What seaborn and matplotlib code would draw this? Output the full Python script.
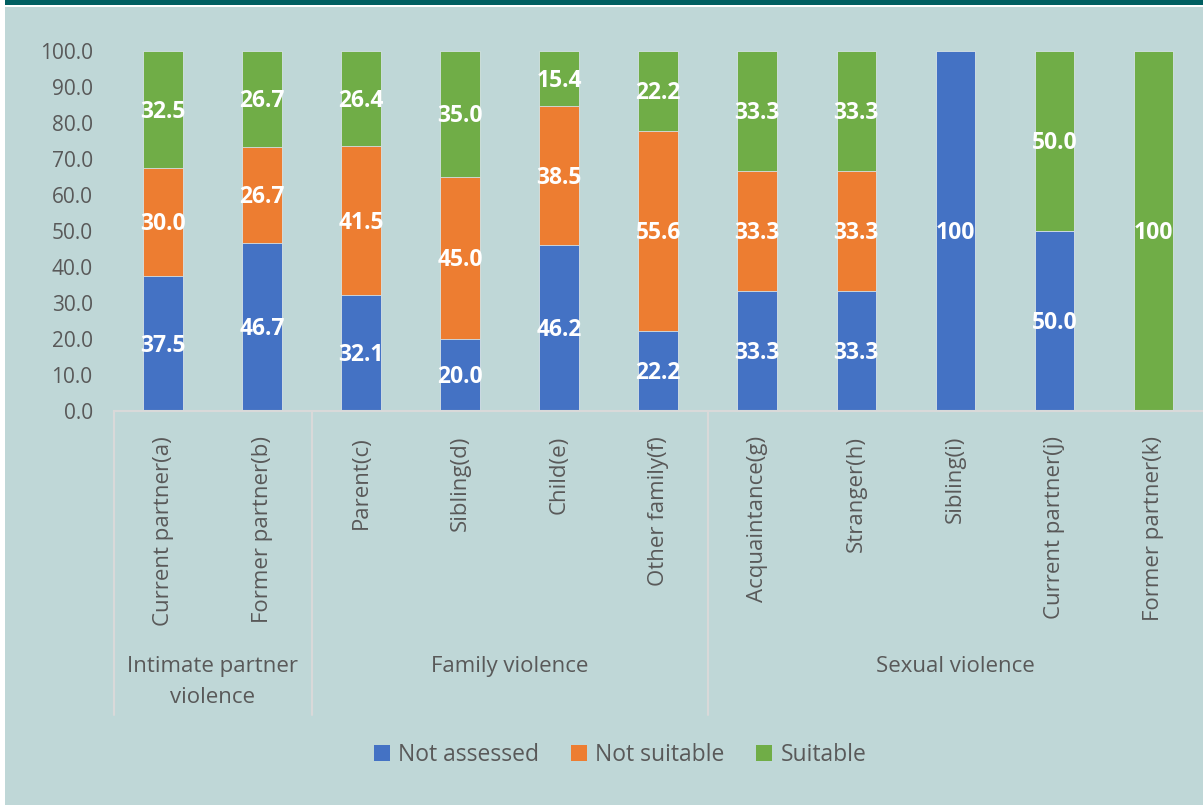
import numpy as np
import pandas as pd
import seaborn as sns
import matplotlib.pyplot as plt
from matplotlib.patches import Rectangle, Patch
import matplotlib.transforms as mtransforms

sns.set_style('white')
plt.rcParams['font.family'] = ['Open Sans', 'DejaVu Sans']

#Chart data
categories = ['Current partner(a)', 'Former partner(b)', 'Parent(c)', 'Sibling(d)', 'Child(e)',
              'Other family(f)', 'Acquaintance(g)', 'Stranger(h)', 'Sibling(i)',
              'Current partner(j)', 'Former partner(k)']
groups = ['Intimate partner\nviolence', 'Family violence', 'Sexual violence']
group_sizes = [2, 4, 5]
series = ['Not assessed', 'Not suitable', 'Suitable']
not_assessed = [37.5, 46.7, 32.1, 20.0, 46.2, 22.2, 33.3, 33.3, 100, 50.0, 0]
not_suitable = [30.0, 26.7, 41.5, 45.0, 38.5, 55.6, 33.3, 33.3, 0, 0, 0]
suitable = [32.5, 26.7, 26.4, 35.0, 15.4, 22.2, 33.3, 33.3, 0, 50.0, 100]
colors = ['#4472C4', '#ED7D31', '#70AD47']
grey = '#595959'
line_col = '#D9D9D9'

df = pd.DataFrame({'cat': categories, 'Not assessed': not_assessed,
                   'Not suitable': not_suitable, 'Suitable': suitable})
df['top_blue'] = df['Not assessed']
df['top_orange'] = df['Not assessed'] + df['Not suitable']
df['top_green'] = df['top_orange'] + df['Suitable']

fig = plt.figure(figsize=(12.03, 8.05), dpi=100, facecolor='white')
#Background panel and dark band at the top
fig.patches.append(Rectangle((5/1203, 0), 1, (805-7)/805, transform=fig.transFigure,
                             facecolor='#BFD7D7', edgecolor='none', zorder=-10))
fig.patches.append(Rectangle((5/1203, (805-5)/805), 1, 5/805, transform=fig.transFigure,
                             facecolor='#005F61', edgecolor='none', zorder=-10))

ax = fig.add_axes([113.5/1203, 1-411/805, 1-113.5/1203, 360/805])
ax.set_facecolor('none')

#Stacked bars drawn as overlapping cumulative bars
for col, c in zip(['top_green', 'top_orange', 'top_blue'], colors[::-1]):
    sns.barplot(data=df, x='cat', y=col, order=categories, color=c, saturation=1,
                width=0.4, errorbar=None, linewidth=0.6, edgecolor='#D5E2E6', ax=ax)

#Data labels in the middle of each segment
for i in range(len(categories)):
    bottom = 0
    for s in series:
        v = df[s].iloc[i]
        if v > 0:
            txt = '100' if v == 100 else f'{v:.1f}'
            ax.text(i, bottom + v/2 - 0.6, txt, ha='center', va='center', color='white',
                    fontsize=16.5, fontweight='bold')
        bottom += v

ax.set_xlim(-0.5, len(categories) - 0.5)
ax.set_ylim(0, 100)
ax.set_yticks(np.arange(0, 101, 10))
ax.set_yticklabels([f'{t:.1f}' for t in np.arange(0, 101, 10)], fontsize=15, color=grey)
ax.set_xticks(range(len(categories)))
ax.set_xticklabels(categories, rotation=90, fontsize=16, color=grey)
ax.tick_params(axis='y', length=0, pad=15)
ax.tick_params(axis='x', length=0, pad=18)
ax.set_xlabel('')
ax.set_ylabel('')
for side in ['top', 'right', 'left']:
    ax.spines[side].set_visible(False)
ax.spines['bottom'].set_color(line_col)
ax.spines['bottom'].set_linewidth(1.5)

#Group separators and group labels
trans = mtransforms.blended_transform_factory(ax.transData, ax.transAxes)
bounds = np.concatenate([[0], np.cumsum(group_sizes)]) - 0.5
for b in bounds[:-1]:
    ax.plot([b, b], [0, -0.844], transform=trans, color=line_col, lw=1.5, clip_on=False)
for g, lo, hi in zip(groups, bounds[:-1], bounds[1:]):
    ax.text((lo + hi)/2, -0.68, g, transform=trans, ha='center', va='top',
            fontsize=16, color=grey, linespacing=1.65, multialignment='center')

#Legend
handles = [Patch(facecolor=c, edgecolor='none') for c in colors]
fig.legend(handles, series, loc='center', bbox_to_anchor=(620/1203, 1-755/805), ncol=3,
           frameon=False, fontsize=16.5, labelcolor=grey, handlelength=0.7,
           handleheight=0.7, handletextpad=0.35, columnspacing=1.4)

plt.savefig('out.png', dpi=100, facecolor=fig.get_facecolor())
